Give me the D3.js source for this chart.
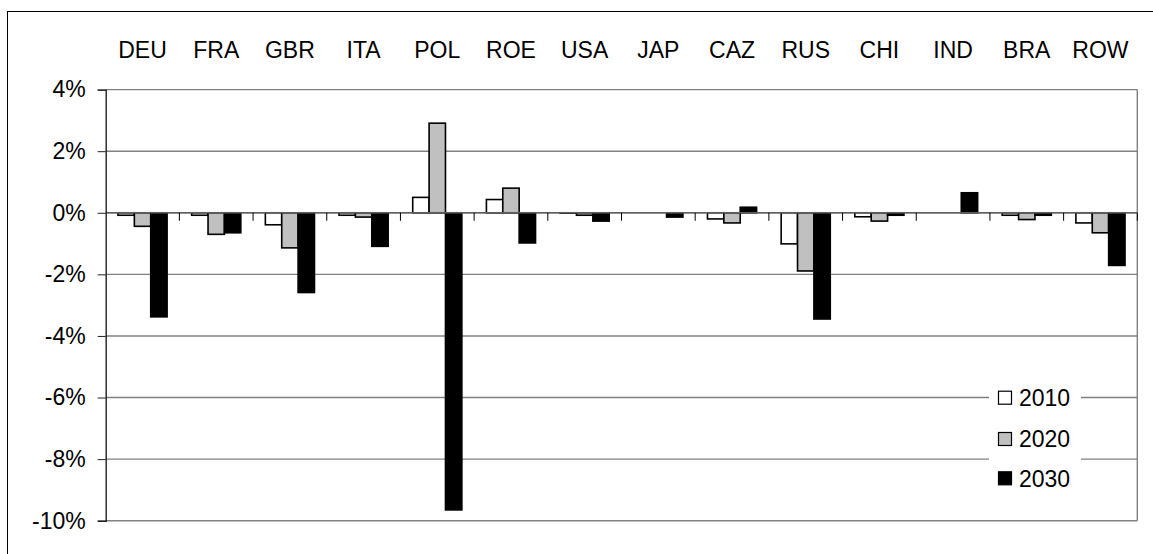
<!DOCTYPE html>
<html>
<head>
<meta charset="utf-8">
<script src="https://cdn.jsdelivr.net/npm/d3@7"></script>
<style>
  html, body { margin: 0; padding: 0; background: #fff; }
  svg { display: block; }
  text { font-family: "Liberation Sans", Arial, sans-serif; font-size: 23px; fill: #000; }
</style>
</head>
<body>
<svg id="chart" width="1153" height="554"></svg>
<script>
// Regions and the change (%) for each scenario year
const regions = ["DEU", "FRA", "GBR", "ITA", "POL", "ROE", "USA", "JAP", "CAZ", "RUS", "CHI", "IND", "BRA", "ROW"];
const years = ["2010", "2020", "2030"];
const values2010 = [-0.08, -0.08, -0.39, -0.08, 0.50, 0.43, -0.01, 0, -0.20, -1.01, -0.13, 0, -0.08, -0.33];
const values2020 = [-0.44, -0.70, -1.14, -0.14, 2.91, 0.80, -0.08, 0, -0.33, -1.89, -0.27, 0, -0.22, -0.65];
const values2030 = [-3.38, -0.65, -2.59, -1.09, -9.65, -0.98, -0.27, -0.14, 0.18, -3.45, -0.08, 0.65, -0.08, -1.71];
const yTicks = [4, 2, 0, -2, -4, -6, -8, -10];
const fills = ["#ffffff", "#c0c0c0", "#000000"];

const series = [values2010, values2020, values2030];

const svg = d3.select("#chart");

// Outer chart frame (runs off the right and bottom edges)
svg.append("rect")
  .attr("x", 7.5).attr("y", 11.5)
  .attr("width", 1200).attr("height", 600)
  .attr("fill", "none").attr("stroke", "#000").attr("stroke-width", 1);

const plot = { left: 105.7, right: 1137.3, top: 89.6, bottom: 520.7 };

const x = d3.scaleBand().domain(regions).range([plot.left, plot.right]).paddingInner(0).paddingOuter(0);
const y = d3.scaleLinear().domain([-10, 4]).range([plot.bottom, plot.top]);

// Excel-style gap of 150% between groups
const barW = x.bandwidth() / (years.length + 1.5);
const groupOffset = (x.bandwidth() - barW * years.length) / 2;

// Horizontal gridlines
svg.append("g")
  .selectAll("line")
  .data(yTicks)
  .join("line")
  .attr("x1", plot.left).attr("x2", plot.right)
  .attr("y1", d => y(d)).attr("y2", d => y(d))
  .attr("stroke", "#808080").attr("stroke-width", 1.4);

// Right edge of the plot area
svg.append("line")
  .attr("x1", plot.right).attr("x2", plot.right)
  .attr("y1", plot.top).attr("y2", plot.bottom)
  .attr("stroke", "#808080").attr("stroke-width", 1.4);

// Bars
years.forEach((yr, si) => {
  svg.append("g")
    .selectAll("rect")
    .data(regions.map((r, i) => ({ r, v: series[si][i] })).filter(d => d.v !== 0))
    .join("rect")
    .attr("x", d => x(d.r) + groupOffset + si * barW)
    .attr("width", barW)
    .attr("y", d => y(Math.max(0, d.v)))
    .attr("height", d => Math.abs(y(d.v) - y(0)))
    .attr("fill", fills[si])
    .attr("stroke", "#000").attr("stroke-width", 1.6);
});

// Category axis along 0%
svg.append("line")
  .attr("x1", plot.left).attr("x2", plot.right)
  .attr("y1", y(0)).attr("y2", y(0))
  .attr("stroke", "#606060").attr("stroke-width", 1.4);

// Category boundary ticks below the zero line
const boundaries = regions.map(r => x(r)).concat([plot.right]).slice(1);
svg.append("g")
  .selectAll("line")
  .data(boundaries)
  .join("line")
  .attr("x1", d => d).attr("x2", d => d)
  .attr("y1", y(0)).attr("y2", y(0) + 8)
  .attr("stroke", "#000").attr("stroke-width", 1);

// Category labels across the top
svg.append("g")
  .selectAll("text")
  .data(regions)
  .join("text")
  .attr("x", d => x(d) + x.bandwidth() / 2)
  .attr("y", 58.3)
  .attr("text-anchor", "middle")
  .text(d => d);

// Value axis
const yAxis = d3.axisLeft(y)
  .tickValues(yTicks)
  .tickSize(8)
  .tickPadding(12)
  .tickFormat(d => d + "%");

const yg = svg.append("g")
  .attr("transform", `translate(${plot.left},0)`)
  .call(yAxis);
yg.select(".domain").attr("stroke", "#202020").attr("stroke-width", 1.4);
yg.selectAll(".tick line").attr("stroke", "#202020");
yg.selectAll(".tick text")
  .attr("font-family", "Liberation Sans, Arial, sans-serif")
  .attr("font-size", 23)
  .attr("fill", "#000");

// Legend
const legend = svg.append("g");
legend.append("rect")
  .attr("x", 989).attr("y", 378)
  .attr("width", 92).attr("height", 120)
  .attr("fill", "#fff");

const legendRows = [397.7, 439, 478.3];
years.forEach((yr, i) => {
  legend.append("rect")
    .attr("x", 998.5).attr("y", legendRows[i] - 6.5)
    .attr("width", 13).attr("height", 13)
    .attr("fill", fills[i])
    .attr("stroke", "#000").attr("stroke-width", 1.2);
  legend.append("text")
    .attr("x", 1019)
    .attr("y", legendRows[i])
    .attr("dy", "0.36em")
    .text(yr);
});
</script>
</body>
</html>
